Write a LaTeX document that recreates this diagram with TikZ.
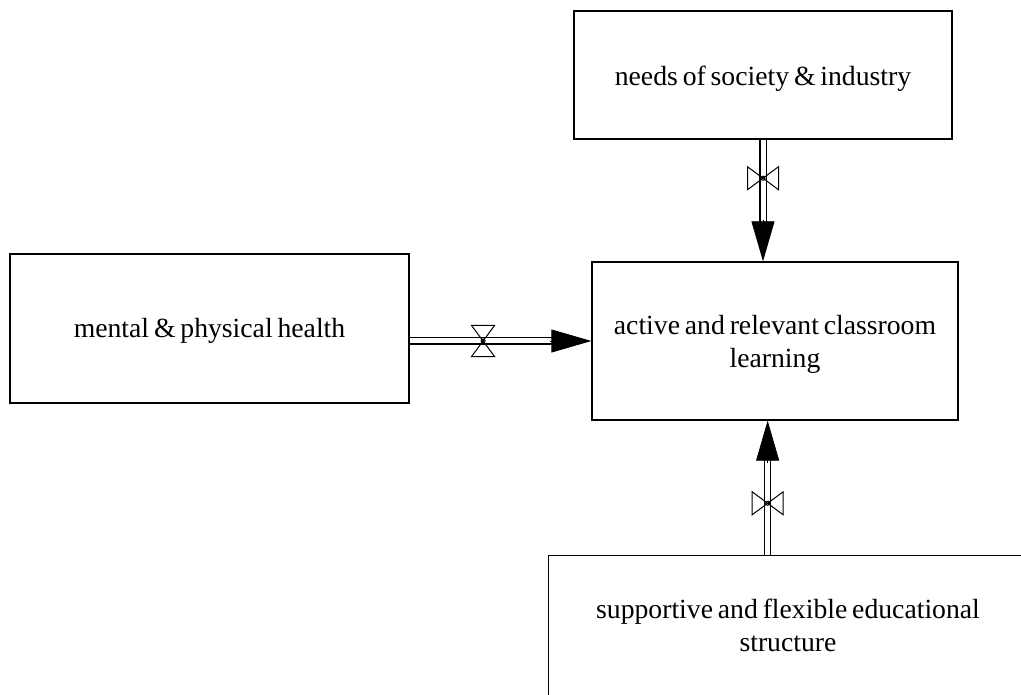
\documentclass[tikz,border=0pt]{standalone}
\usepackage{fontspec}
\setmainfont{Liberation Serif}[WordSpace=0.7]
\usetikzlibrary{arrows.meta}
\tikzset{
  box/.style={draw, line width=1.3pt, rectangle, inner sep=0pt},
  txt/.style={inner sep=0pt, align=center, font=\fontsize{27.7}{33}\selectfont},
  flow/.style={draw, line width=1.3pt, double, double distance=5pt, shorten >=37pt},
  tip/.style={line width=0.8pt, -{Triangle[length=40pt,width=23pt]}},
  valve/.pic={
    \draw[line width=1pt] (0,0) -- (-15.5,-11.5) -- (-15.5,11.5) -- cycle;
    \draw[line width=1pt] (0,0) -- (15.5,-11.5) -- (15.5,11.5) -- cycle;
    \draw[line width=1pt] (0,0) circle (2);
  }
}
\begin{document}
\begin{tikzpicture}[x=1pt,y=-1pt]
\useasboundingbox (0,0) rectangle (1021,695);
\clip (0,0) rectangle (1021,695);

\node[box, minimum width=378pt, minimum height=128pt] (needs) at (763,75) {};
\node[txt] (needstxt) at (763,79) {needs of society \& industry};
\node[box, minimum width=399pt, minimum height=149pt] (health) at (209.5,328.5) {};
\node[txt] (healthtxt) at (209.5,331) {mental \& physical health};
\node[box, minimum width=366pt, minimum height=158pt] (act) at (775,341) {};
\node[txt] (acttxt) at (775,344) {active and relevant classroom\\learning};
\node[box, minimum width=480pt, minimum height=170pt, anchor=north west] (sup) at (548,555) {};
\node[txt] (suptxt) at (788,625) {supportive and flexible educational\\structure};

% top flow
\draw[flow] (needs.south) -- (needs.south |- act.north);
\draw[tip] ([yshift=41pt]needs.south |- act.north) -- (needs.south |- act.north);
\path (needs.south) -- (needs.south |- act.north) coordinate[pos=0.317] (v1);
\pic at (v1) {valve};

% left flow
\draw[flow] (health.east |- act.west) -- (act.west);
\draw[tip] ([xshift=-41pt]act.west) -- (act.west);
\path (health.east |- act.west) -- (act.west) coordinate[pos=0.404] (v2);
\pic[rotate=90] at (v2) {valve};

% bottom flow
\coordinate (bs) at ([xshift=-21pt]sup.north);
\draw[flow] (bs) -- (bs |- act.south);
\draw[tip] ([yshift=-42pt]bs |- act.south) -- (bs |- act.south);
\path (bs) -- (bs |- act.south) coordinate[pos=0.385] (v3);
\pic at (v3) {valve};
\end{tikzpicture}
\end{document}
